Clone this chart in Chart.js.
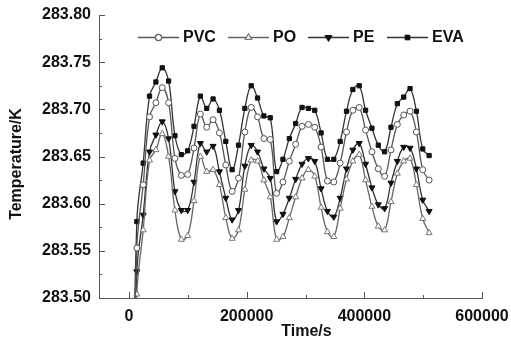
<!DOCTYPE html>
<html>
<head>
<meta charset="utf-8">
<script src="https://cdn.jsdelivr.net/npm/chart.js@4/dist/chart.umd.min.js"></script>
<style>
  html, body { margin: 0; padding: 0; background: #fff; }
  #wrap { width: 511px; height: 343px; position: relative; }
</style>
</head>
<body>
<div id="wrap"><canvas id="tempChart"></canvas></div>
<script>
// time (s) of each sample
const times = [0, 13300, 24100, 34900, 45700, 56500, 67300, 78100, 88900, 99700, 110500, 121300,
    132100, 142900, 153700, 164500, 175300, 186100, 196900, 207700, 218500, 229300, 240100,
    250900, 261700, 272500, 283300, 294100, 304900, 315700, 326500, 337300, 348100, 358900,
    369700, 380500, 391300, 402100, 412900, 423700, 434500, 445300, 456100, 466900, 477700,
    488500, 499300, 510100];

const pvc = [283.15, 283.553, 283.620, 283.692, 283.707, 283.723, 283.707, 283.648, 283.630, 283.631,
    283.659, 283.695, 283.681, 283.689, 283.675, 283.641, 283.613, 283.627, 283.676, 283.702, 283.692,
    283.669, 283.668, 283.611, 283.623, 283.645, 283.663, 283.682, 283.684, 283.681, 283.660, 283.624,
    283.623, 283.643, 283.676, 283.699, 283.702, 283.678, 283.655, 283.637, 283.629, 283.657, 283.684,
    283.694, 283.698, 283.676, 283.636, 283.625];

const po = [283.15, 283.504, 283.572, 283.646, 283.657, 283.674, 283.650, 283.593, 283.562, 283.566,
    283.603, 283.650, 283.634, 283.636, 283.620, 283.585, 283.563, 283.572, 283.615, 283.646, 283.645,
    283.625, 283.607, 283.562, 283.565, 283.585, 283.607, 283.627, 283.636, 283.629, 283.596, 283.570,
    283.565, 283.595, 283.626, 283.645, 283.652, 283.625, 283.597, 283.576, 283.572, 283.602, 283.632,
    283.645, 283.648, 283.620, 283.584, 283.569];

const pe = [283.15, 283.528, 283.588, 283.655, 283.673, 283.687, 283.669, 283.613, 283.593, 283.593,
    283.623, 283.664, 283.655, 283.661, 283.634, 283.606, 283.583, 283.593, 283.640, 283.662, 283.655,
    283.637, 283.627, 283.581, 283.589, 283.606, 283.626, 283.642, 283.648, 283.645, 283.616, 283.592,
    283.586, 283.606, 283.637, 283.657, 283.664, 283.642, 283.617, 283.599, 283.595, 283.622, 283.645,
    283.660, 283.659, 283.637, 283.604, 283.592];

const eva = [283.15, 283.581, 283.643, 283.714, 283.729, 283.744, 283.730, 283.672, 283.652, 283.656,
    283.682, 283.714, 283.701, 283.711, 283.699, 283.666, 283.636, 283.662, 283.701, 283.725, 283.712,
    283.693, 283.691, 283.634, 283.647, 283.669, 283.685, 283.702, 283.701, 283.699, 283.675, 283.647,
    283.647, 283.666, 283.698, 283.721, 283.725, 283.699, 283.680, 283.662, 283.655, 283.681, 283.706,
    283.713, 283.722, 283.698, 283.658, 283.651];

const seriesNames = ['PVC', 'PO', 'PE', 'EVA'];
const xTickValues = [0, 100000, 200000, 300000, 400000, 500000, 600000];
const xLabelValues = [0, 200000, 400000, 600000];

const FONT = '"Liberation Sans", Arial, sans-serif';
const AXIS = '#555';

function pts(vals) {
    return vals.map((v, i) => ({ x: times[i], y: v }));
}

const styles = [
    { data: pvc, line: '#555', edge: '#555', fill: '#fff', shape: 'circle', r: 3, rot: 0 },
    { data: po, line: '#666', edge: '#777', fill: '#fff', shape: 'triangle', r: 3.5, rot: 0 },
    { data: pe, line: '#333', edge: '#111', fill: '#111', shape: 'triangle', r: 3.5, rot: 180 },
    { data: eva, line: '#333', edge: '#111', fill: '#111', shape: 'rect', r: 3, rot: 0 }
];

const datasets = styles.map((s, i) => ({
    label: seriesNames[i],
    data: pts(s.data),
    borderColor: s.line,
    borderWidth: 1.3,
    tension: 0.4,
    pointStyle: s.shape,
    pointRotation: s.rot,
    pointRadius: s.r,
    pointBackgroundColor: s.fill,
    pointBorderColor: s.edge,
    pointBorderWidth: 1,
    fill: false
}));

// inward ticks, axis titles and the line+marker legend
const decor = {
    id: 'decor',
    afterDraw(chart) {
        const ctx = chart.ctx;
        const xs = chart.scales.x, ys = chart.scales.y, a = chart.chartArea;
        ctx.save();
        ctx.strokeStyle = AXIS;
        ctx.lineWidth = 1;
        ctx.beginPath();
        ys.ticks.forEach((t, i) => {
            const py = Math.round(ys.getPixelForValue(t.value)) + 0.5;
            const len = i % 2 === 0 ? 6 : 3;
            ctx.moveTo(a.left, py);
            ctx.lineTo(a.left + len, py);
        });
        xTickValues.forEach(v => {
            const px = Math.round(xs.getPixelForValue(v)) + 0.5;
            const len = xLabelValues.includes(v) ? 6 : 3;
            ctx.moveTo(px, a.bottom);
            ctx.lineTo(px, a.bottom - len);
        });
        ctx.stroke();

        // axis titles
        ctx.fillStyle = '#111';
        ctx.font = 'bold 16px ' + FONT;
        ctx.textAlign = 'center';
        ctx.textBaseline = 'middle';
        ctx.fillText('Time/s', (xs.getPixelForValue(0) + xs.getPixelForValue(600000)) / 2 + 1, 332);
        ctx.save();
        ctx.translate(17, 164);
        ctx.rotate(-Math.PI / 2);
        ctx.fillText('Temperature/K', 0, 0);
        ctx.restore();

        // legend
        const lx = [138, 228, 308, 387];
        const ly = 37;
        chart.data.datasets.forEach((ds, i) => {
            const x0 = lx[i], x1 = x0 + 41;
            ctx.strokeStyle = ds.borderColor;
            ctx.lineWidth = 1.3;
            ctx.beginPath();
            ctx.moveTo(x0, ly + 0.5);
            ctx.lineTo(x1, ly + 0.5);
            ctx.stroke();
            Chart.helpers.drawPoint(ctx, {
                pointStyle: ds.pointStyle,
                rotation: ds.pointRotation,
                radius: ds.pointRadius,
                borderWidth: 1
            }, (x0 + x1) / 2, ly + 0.5);
            ctx.fillStyle = ds.pointBackgroundColor;
            ctx.strokeStyle = ds.pointBorderColor;
            ctx.lineWidth = 1;
            ctx.fill();
            ctx.stroke();
            ctx.fillStyle = '#111';
            ctx.font = 'bold 16px ' + FONT;
            ctx.textAlign = 'left';
            ctx.fillText(ds.label, x1 + 4, ly + 1);
        });
        ctx.restore();
    }
};

new Chart(document.getElementById('tempChart'), {
    type: 'line',
    data: { datasets: datasets },
    options: {
        responsive: true,
        maintainAspectRatio: false,
        animation: false,
        layout: { padding: { top: 15, right: 29, left: 0, bottom: 0 } },
        plugins: {
            legend: { display: false },
            tooltip: { enabled: false }
        },
        scales: {
            x: {
                type: 'linear',
                min: -51000,
                max: 600000,
                afterBuildTicks: s => { s.ticks = xTickValues.map(v => ({ value: v })); },
                // fixed axis box so the plot area lands where the original's does
                afterFit: s => { s.height = 45; s.paddingLeft = 0; s.paddingRight = 0; },
                grid: { display: false, drawTicks: false },
                border: { display: true, color: AXIS, width: 1 },
                ticks: {
                    autoSkip: false,
                    maxRotation: 0,
                    padding: 9,
                    color: '#111',
                    font: { family: FONT, size: 16, weight: 'bold' },
                    callback: v => xLabelValues.includes(v) ? String(v) : ''
                }
            },
            y: {
                min: 283.5,
                max: 283.8,
                afterFit: s => { s.width = 99; s.paddingTop = 0; s.paddingBottom = 0; },
                grid: { display: false, drawTicks: false },
                border: { display: true, color: AXIS, width: 1 },
                ticks: {
                    stepSize: 0.025,
                    padding: 8,
                    color: '#111',
                    font: { family: FONT, size: 16, weight: 'bold' },
                    callback: (v, i) => i % 2 === 0 ? v.toFixed(2) : ''
                }
            }
        }
    },
    plugins: [decor]
});
</script>
</body>
</html>
